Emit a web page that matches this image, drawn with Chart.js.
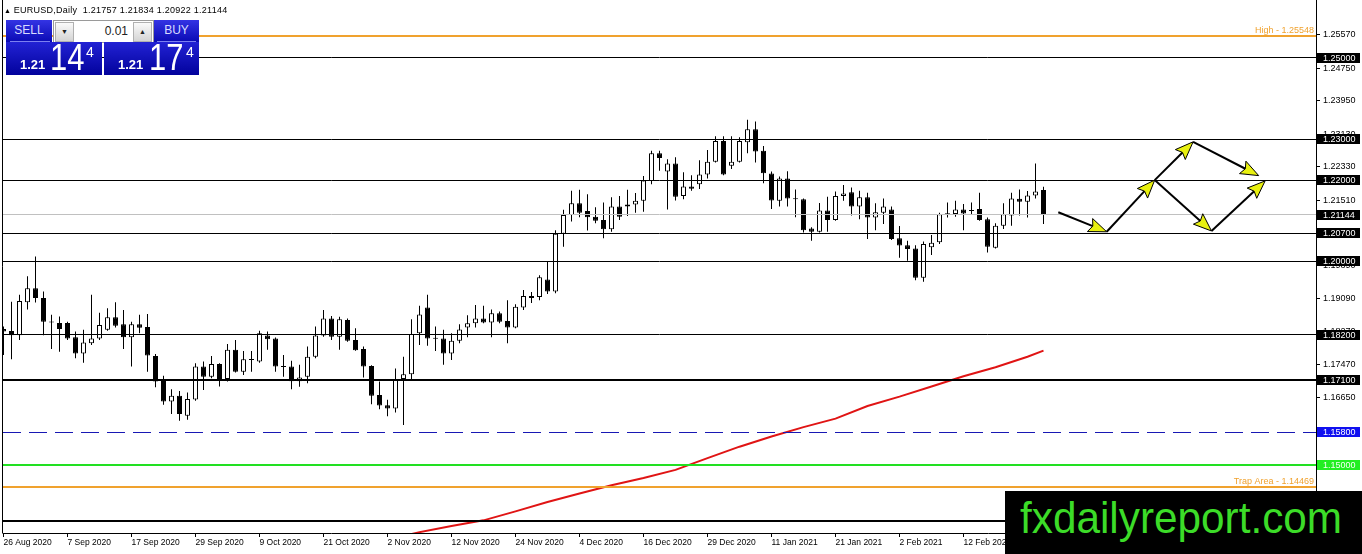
<!DOCTYPE html>
<html><head><meta charset="utf-8">
<script src="https://cdn.jsdelivr.net/npm/chart.js@4.4.1/dist/chart.umd.min.js"></script>
<style>
html,body{margin:0;padding:0;background:#fff;}
#wrap{position:relative;width:1362px;height:554px;overflow:hidden;font-family:"Liberation Sans",Arial,sans-serif;}
#c{position:absolute;left:0;top:0;}
.abs{position:absolute;}
#title{left:4px;top:4px;font-size:9px;letter-spacing:0.25px;color:#000;white-space:pre;line-height:12px;}
#title .tri{font-size:7px;letter-spacing:0;}
.btn{top:20px;height:22px;background:linear-gradient(#3434e4,#0a0ab4);color:#d8dcff;font-size:12px;line-height:21px;text-align:center;}
.sep{height:1px;background:#7c80f0;}
#spin{left:53px;top:20px;width:99px;height:21px;background:#fff;border:1px solid #9a9a9a;}
.sb{top:1px;width:17px;height:18px;background:linear-gradient(#fafafa,#d4d4d4);border:1px solid #b0b0b0;font-size:7px;line-height:18px;text-align:center;color:#222;}
.pbox{top:42px;height:33px;background:linear-gradient(#2222d4,#02029c);color:#fff;}
.small{font-size:13px;font-weight:bold;top:15px;}
.big{font-size:36px;top:-4px;transform:scaleX(0.86);transform-origin:left top;line-height:40px;}
.sup{font-size:14px;top:2px;}
#wm{left:1005px;top:491px;width:357px;height:63px;background:#000;}
#wm span{position:absolute;left:15px;top:4px;font-size:45px;line-height:45px;color:#3cdc28;white-space:nowrap;transform:scaleX(0.94);transform-origin:left top;}
</style></head><body>
<div id="wrap">
<canvas id="c" width="1362" height="554"></canvas>
<div id="title" class="abs"><span class="tri">▲</span> EURUSD,Daily  1.21757 1.21834 1.20922 1.21144</div>
<div class="abs btn" style="left:6px;width:46px;">SELL</div>
<div class="abs sep" style="left:10px;top:41px;width:40px;"></div>
<div id="spin" class="abs">
  <div class="abs sb" style="left:1px;">▼</div>
  <div class="abs" style="right:25px;top:2px;font-size:12px;color:#222;line-height:17px;">0.01</div>
  <div class="abs sb" style="right:1px;">▲</div>
</div>
<div class="abs btn" style="left:154px;width:45px;">BUY</div>
<div class="abs sep" style="left:157px;top:41px;width:39px;"></div>
<div class="abs pbox" style="left:6px;width:96px;">
  <div class="abs small" style="left:14px;">1.21</div>
  <div class="abs big" style="left:44px;">14</div>
  <div class="abs sup" style="left:80px;">4</div>
</div>
<div class="abs pbox" style="left:104px;width:95px;">
  <div class="abs small" style="left:14px;">1.21</div>
  <div class="abs big" style="left:45px;">17</div>
  <div class="abs sup" style="left:82px;">4</div>
</div>
<div id="wm" class="abs"><span>fxdailyreport.com</span></div>
</div>
<script>
// ---- data ----
const opens = [1.1834,1.1829,1.1819,1.1900,1.1934,1.1910,1.1852,1.1849,1.1849,1.1814,
1.1774,1.1799,1.1811,1.1832,1.1863,1.1846,1.1814,1.1846,1.1839,1.1768,
1.1711,1.1656,1.1670,1.1621,1.1661,1.1742,1.1717,1.1748,1.1711,1.1783,
1.1729,1.1760,1.1754,1.1818,1.1811,1.1743,1.1742,1.1706,1.1717,1.1766,
1.1818,1.1860,1.1815,1.1856,1.1807,1.1785,1.1743,1.1672,1.1647,1.1639,
1.1711,1.1723,1.1824,1.1887,1.1812,1.1811,1.1774,1.1805,1.1838,1.1848,
1.1860,1.1850,1.1873,1.1854,1.1838,1.1887,1.1915,1.1913,1.1956,1.1926,
1.2068,1.2114,1.2143,1.2124,1.2110,1.2102,1.2079,1.2135,1.2135,1.2140,
1.2149,1.2198,1.2266,1.2221,1.2241,1.2161,1.2184,1.2190,1.2214,1.2245,
1.2296,1.2235,1.2245,1.2293,1.2325,1.2272,1.2216,1.2149,1.2204,1.2155,
1.2153,1.2081,1.2073,1.2125,1.2102,1.2161,1.2170,1.2135,1.2158,1.2108,
1.2120,1.2128,1.2057,1.2040,1.2032,1.1960,1.2035,1.2047,1.2116,1.2117,
1.2128,1.2125,1.2129,1.2104,1.2034,1.2088,1.2113,1.2154,1.2147,1.2162,
1.21757];
const highs = [1.1840,1.1901,1.1918,1.1964,1.2012,1.1926,1.1869,1.1865,1.1852,1.1828,
1.1832,1.1918,1.1874,1.1885,1.1900,1.1881,1.1852,1.1869,1.1871,1.1773,
1.1719,1.1686,1.1682,1.1678,1.1750,1.1754,1.1768,1.1750,1.1797,1.1807,
1.1780,1.1780,1.1830,1.1828,1.1813,1.1770,1.1756,1.1746,1.1791,1.1840,
1.1881,1.1866,1.1864,1.1860,1.1836,1.1791,1.1745,1.1705,1.1660,1.1737,
1.1766,1.1858,1.1891,1.1918,1.1840,1.1832,1.1824,1.1846,1.1868,1.1893,
1.1891,1.1882,1.1877,1.1905,1.1895,1.1930,1.1925,1.1966,1.2000,1.2077,
1.2127,1.2174,1.2176,1.2165,1.2133,1.2145,1.2158,1.2161,1.2176,1.2168,
1.2210,1.2272,1.2272,1.2251,1.2256,1.2219,1.2212,1.2249,1.2274,1.2308,
1.2308,1.2308,1.2305,1.2348,1.2344,1.2284,1.2221,1.2209,1.2222,1.2177,
1.2155,1.2084,1.2144,1.2159,1.2172,1.2188,1.2182,1.2174,1.2169,1.2143,
1.2155,1.2135,1.2087,1.2051,1.2040,1.2049,1.2065,1.2120,1.2145,1.2149,
1.2141,1.2145,1.2169,1.2108,1.2094,1.2143,1.2169,1.2177,1.2173,1.2241,
1.21834];
const lows = [1.1770,1.1760,1.1807,1.1882,1.1899,1.1819,1.1785,1.1778,1.1807,1.1762,
1.1751,1.1795,1.1807,1.1830,1.1838,1.1785,1.1742,1.1824,1.1729,1.1691,
1.1648,1.1625,1.1609,1.1611,1.1658,1.1684,1.1713,1.1693,1.1705,1.1727,
1.1721,1.1729,1.1751,1.1783,1.1729,1.1717,1.1686,1.1692,1.1701,1.1762,
1.1815,1.1807,1.1783,1.1803,1.1781,1.1715,1.1649,1.1637,1.1620,1.1629,
1.1598,1.1711,1.1795,1.1793,1.1780,1.1746,1.1758,1.1799,1.1814,1.1838,
1.1848,1.1814,1.1848,1.1799,1.1836,1.1881,1.1898,1.1905,1.1920,1.1922,
1.2036,1.2098,1.2109,1.2076,1.2094,1.2057,1.2073,1.2102,1.2112,1.2120,
1.2122,1.2190,1.2223,1.2128,1.2150,1.2153,1.2174,1.2178,1.2204,1.2243,
1.2212,1.2227,1.2243,1.2266,1.2243,1.2192,1.2129,1.2135,1.2135,1.2109,
1.2071,1.2051,1.2071,1.2073,1.2100,1.2149,1.2113,1.2104,1.2055,1.2077,
1.2092,1.2053,1.2009,1.2002,1.1954,1.1950,1.2016,1.2043,1.2108,1.2110,
1.2077,1.2117,1.2100,1.2022,1.2032,1.2080,1.2088,1.2113,1.2108,1.2155,
1.20922];
const closes = [1.1828,1.1819,1.1903,1.1934,1.1910,1.1852,1.1850,1.1834,1.1811,1.1774,
1.1801,1.1811,1.1844,1.1863,1.1842,1.1814,1.1846,1.1837,1.1769,1.1705,
1.1656,1.1670,1.1625,1.1662,1.1742,1.1717,1.1748,1.1711,1.1783,1.1729,
1.1760,1.1758,1.1824,1.1809,1.1742,1.1741,1.1706,1.1715,1.1766,1.1818,
1.1860,1.1815,1.1858,1.1805,1.1782,1.1742,1.1670,1.1646,1.1639,1.1709,
1.1723,1.1822,1.1870,1.1811,1.1810,1.1774,1.1805,1.1833,1.1848,1.1860,
1.1850,1.1873,1.1852,1.1838,1.1889,1.1915,1.1910,1.1961,1.1926,1.2068,
1.2114,1.2143,1.2120,1.2109,1.2100,1.2079,1.2135,1.2110,1.2140,1.2149,
1.2199,1.2266,1.2254,1.2241,1.2159,1.2184,1.2179,1.2214,1.2245,1.2296,
1.2214,1.2245,1.2296,1.2325,1.2270,1.2217,1.2150,1.2204,1.2155,1.2153,
1.2077,1.2073,1.2125,1.2102,1.2161,1.2167,1.2135,1.2158,1.2108,1.2121,
1.2135,1.2055,1.2039,1.2031,1.1960,1.2043,1.2046,1.2116,1.2118,1.2128,
1.2118,1.2124,1.2102,1.2036,1.2088,1.2116,1.2155,1.2147,1.2162,1.2172,
1.21144];

const maBars = [48,52,56,60,64,68,72,76,80,84,88,92,96,100,104,108,112,116,120,124,128,130];
const maValues = [1.1316,1.1335,1.1350,1.1364,1.1386,1.1409,1.1430,1.1450,1.1468,1.1488,1.1517,1.1545,1.1570,1.1593,1.1614,1.1645,1.1668,1.1693,1.1718,1.1740,1.1766,1.1781];

const xTickBars = [0,8,16,24,32,40,48,56,64,72,80,88,96,104,112,120];
const xTickLabels = ['26 Aug 2020','7 Sep 2020','17 Sep 2020','29 Sep 2020','9 Oct 2020','21 Oct 2020','2 Nov 2020','12 Nov 2020','24 Nov 2020','4 Dec 2020','16 Dec 2020','29 Dec 2020','11 Jan 2021','21 Jan 2021','2 Feb 2021','12 Feb 2021'];
const yTickValues = [1.25570,1.24750,1.23950,1.23130,1.22330,1.21510,1.20690,1.19890,1.19090,1.18270,1.17470,1.16650,1.15850,1.15030,1.14230,1.13410];

const levelValues = [1.25548,1.25000,1.23000,1.22000,1.21144,1.20700,1.20000,1.18200,1.17100,1.15800,1.15000,1.14469,1.13620];
const levelNotes = ['High - 1.25548','','','','','','','','','','','Trap Area - 1.14469',''];

const arrowFromBar = [131.85,137.9,143.9,148.7,143.9,151.0];
const arrowFromPrice = [1.2121,1.2073,1.2200,1.2294,1.2200,1.2075];
const arrowToBar = [137.9,143.9,148.7,156.9,151.0,157.7];
const arrowToPrice = [1.2073,1.2200,1.2294,1.2211,1.2075,1.2198];

// ---- styles ----
const ORANGE = '#f0a22e';
const levelStyles = [
  {color:ORANGE,width:2},
  {color:'#000',width:1,box:'#000',boxText:'#fff'},
  {color:'#000',width:1,box:'#000',boxText:'#fff'},
  {color:'#000',width:1,box:'#000',boxText:'#fff'},
  {color:'#c0c0c0',width:1,box:'#000',boxText:'#fff'},
  {color:'#000',width:1,box:'#000',boxText:'#fff'},
  {color:'#000',width:1,box:'#000',boxText:'#fff'},
  {color:'#000',width:1,box:'#000',boxText:'#fff'},
  {color:'#000',width:2,box:'#000',boxText:'#fff'},
  {color:'#1818b4',width:1,dash:[18,8],box:'#1010f0',boxText:'#fff'},
  {color:'#22e022',width:2,box:'#22ee22',boxText:'#f4fff4'},
  {color:ORANGE,width:2},
  {color:'#000',width:2}
];

const X_MIN = -0.0625, X_MAX = 164.0625;
const Y_MIN = 1.13329, Y_MAX = 1.26425;
const FONT = '"Liberation Sans", Arial, sans-serif';

const bodyData = opens.map((o,i)=>({x:i, y:[o, closes[i]]}));
const wickData = lows.map((l,i)=>({x:i, y:[l, highs[i]]}));
const bodyFill = opens.map((o,i)=> closes[i] >= o ? '#ffffff' : '#000000');
const maData = maBars.map((b,i)=>({x:b, y:maValues[i]}));

const overlay = {
  id:'overlay',
  afterDatasetsDraw(chart){
    const {ctx, chartArea:a, scales:{x, y}} = chart;
    ctx.save();
    ctx.beginPath(); ctx.rect(a.left, a.top, a.right-a.left, a.bottom-a.top); ctx.clip();
    levelValues.forEach((v,i)=>{
      const st = levelStyles[i];
      let py = y.getPixelForValue(v);
      py = (st.width % 2) ? Math.round(py - 0.5) + 0.5 : Math.round(py);
      ctx.beginPath();
      ctx.strokeStyle = st.color; ctx.lineWidth = st.width;
      ctx.setLineDash(st.dash || []);
      ctx.moveTo(a.left, py); ctx.lineTo(a.right, py); ctx.stroke();
      ctx.setLineDash([]);
      if (levelNotes[i]) {
        ctx.fillStyle = st.color; ctx.font = '9px ' + FONT;
        ctx.textAlign = 'right'; ctx.textBaseline = 'alphabetic';
        ctx.fillText(levelNotes[i], a.right - 2, py - 3);
      }
    });
    // arrows
    for (let k=0;k<arrowFromBar.length;k++){
      const x0 = x.getPixelForValue(arrowFromBar[k]), y0 = y.getPixelForValue(arrowFromPrice[k]);
      const x1 = x.getPixelForValue(arrowToBar[k]), y1 = y.getPixelForValue(arrowToPrice[k]);
      const dx = x1-x0, dy = y1-y0, len = Math.hypot(dx,dy), ux = dx/len, uy = dy/len;
      const L = 18, W = 7;
      const bx = x1-ux*L, by = y1-uy*L;
      ctx.strokeStyle = '#000'; ctx.lineWidth = 2;
      ctx.beginPath(); ctx.moveTo(x0,y0); ctx.lineTo(bx+ux*3,by+uy*3); ctx.stroke();
      ctx.beginPath();
      ctx.moveTo(x1,y1);
      ctx.lineTo(bx - uy*W, by + ux*W);
      ctx.lineTo(bx + ux*3, by + uy*3);
      ctx.lineTo(bx + uy*W, by - ux*W);
      ctx.closePath();
      ctx.fillStyle = '#e8f010'; ctx.fill();
      ctx.lineWidth = 1; ctx.stroke();
    }
    ctx.restore();
  },
  afterDraw(chart){
    const {ctx, chartArea:a, scales:{y}} = chart;
    ctx.save();
    ctx.strokeStyle = '#000'; ctx.lineWidth = 1;
    ctx.beginPath(); ctx.moveTo(a.left-0.5, 0); ctx.lineTo(a.left-0.5, a.bottom+0.5); ctx.stroke();
    levelValues.forEach((v,i)=>{
      const st = levelStyles[i];
      if (!st.box) return;
      const py = Math.round(y.getPixelForValue(v));
      ctx.fillStyle = st.box;
      ctx.fillRect(a.right+1, py-5, 43, 10);
      ctx.fillStyle = st.boxText; ctx.font = '9px ' + FONT;
      ctx.textAlign = 'left'; ctx.textBaseline = 'middle';
      ctx.fillText(v.toFixed(5), a.right+7, py+0.5);
    });
    ctx.restore();
  }
};

function noPad(s){ s.paddingTop = 0; s.paddingBottom = 0; s.paddingLeft = 0; s.paddingRight = 0; }

new Chart(document.getElementById('c'), {
  type:'bar',
  data:{
    datasets:[
      {type:'line', data:maData, borderColor:'#e01414', borderWidth:2, pointRadius:0, tension:0, order:1},
      {type:'bar', data:bodyData, backgroundColor:bodyFill, borderColor:'#000', borderWidth:1, borderSkipped:false,
       barThickness:5, grouped:false, minBarLength:1, inflateAmount:0, order:2},
      {type:'bar', data:wickData, backgroundColor:'#000', borderWidth:0, barThickness:1, grouped:false, inflateAmount:0, order:3}
    ]
  },
  options:{
    responsive:false, animation:false, devicePixelRatio:1,
    layout:{padding:{left:3,right:0,top:0,bottom:0}},
    plugins:{legend:{display:false}, tooltip:{enabled:false}},
    scales:{
      x:{type:'linear', position:'bottom', min:X_MIN, max:X_MAX, offset:false, bounds:'data',
         grid:{drawOnChartArea:false, drawTicks:true, tickLength:4, color:'#000', offset:false},
         border:{display:true, color:'#000', width:1},
         ticks:{autoSkip:false, maxRotation:0, align:'start', padding:1, color:'#000',
                font:{family:FONT, size:8.5},
                callback:(v)=>{ const k = xTickBars.indexOf(v); return k>=0 ? xTickLabels[k] : ''; }},
         afterBuildTicks:(s)=>{ s.ticks = xTickBars.map(v=>({value:v})); },
         afterFit:(s)=>{ s.height = 21; noPad(s); }},
      y:{type:'linear', position:'right', min:Y_MIN, max:Y_MAX, bounds:'data',
         grid:{drawOnChartArea:false, drawTicks:true, tickLength:4, color:'#000'},
         border:{display:true, color:'#000', width:1},
         ticks:{autoSkip:false, padding:3, color:'#000', font:{family:FONT, size:9},
                callback:(v)=>Number(v).toFixed(5)},
         afterBuildTicks:(s)=>{ s.ticks = yTickValues.map(v=>({value:v})); },
         afterFit:(s)=>{ s.width = 46; noPad(s); }}
    }
  },
  plugins:[overlay]
});
</script>
</body></html>
